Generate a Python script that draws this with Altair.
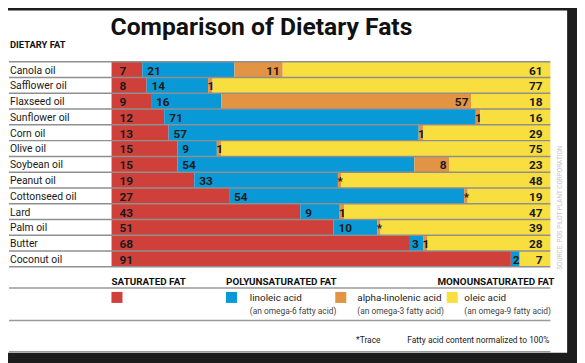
import altair as alt
import pandas as pd

# ---------------- data ----------------
oils = ["Canola oil", "Safflower oil", "Flaxseed oil", "Sunflower oil", "Corn oil",
        "Olive oil", "Soybean oil", "Peanut oil", "Cottonseed oil", "Lard",
        "Palm oil", "Butter", "Coconut oil"]
saturated = [7, 8, 9, 12, 13, 15, 15, 19, 27, 43, 51, 68, 91]
linoleic = [21, 14, 16, 71, 57, 9, 54, 33, 54, 9, 10, 3, 2]
alpha_linolenic = [11, 1, 57, 1, 1, 1, 8, 0.8, 0.8, 1, 0.8, 1, 0]
alpha_labels = ["11", "1", "57", "1", "1", "1", "8", "*", "*", "1", "*", "1", ""]
oleic = [61, 77, 18, 16, 29, 75, 23, 48, 19, 47, 39, 28, 7]

fat_types = ["saturated", "linoleic", "alpha", "oleic"]
fat_colors = ["#d0403a", "#0a99d7", "#e29343", "#f8df3f"]

title_text = "Comparison of Dietary Fats"
column_title = "DIETARY FAT"
group_headings = ["SATURATED FAT", "POLYUNSATURATED FAT"]
group_heading_pos = [0, 26.1]
mono_heading = "MONOUNSATURATED FAT"
legend_square_pos = [0, 26.1, 51.0, 76.4]
legend_text_pos = [31.5, 56.0, 80.4]
legend_names = ["linoleic acid", "alpha-linolenic acid", "oleic acid"]
legend_notes = ["(an omega-6 fatty acid)", "(an omega-3 fatty acid)", "(an omega-9 fatty acid)"]
trace_note = "*Trace"
norm_note = "Fatty acid content normalized to 100%"
source_note = "SOURCE: POS PILOT PLANT CORPORATION"

FONT = "Roboto"

# ---------------- build tables ----------------
rows = []
for i, oil in enumerate(oils):
    vals = [saturated[i], linoleic[i], alpha_linolenic[i], oleic[i]]
    labs = [str(saturated[i]), str(linoleic[i]), alpha_labels[i], str(oleic[i])]
    total = sum(vals)
    cum = 0.0
    for t, v, lab in zip(fat_types, vals, labs):
        if v > 0:
            start = cum / total * 100
            end = (cum + v) / total * 100
            rows.append({"oil": oil, "type": t, "value": v, "label": lab,
                         "start": start, "end": end, "mid": (start + end) / 2,
                         "small": v <= 1, "narrow": v <= 3})
        cum += v
df = pd.DataFrame(rows)

color_scale = alt.Scale(domain=fat_types, range=fat_colors)
x_scale = alt.Scale(domain=[0, 100], nice=False, zero=True)
y_scale = alt.Scale(domain=oils, paddingInner=0, paddingOuter=0)

panel = alt.Chart(pd.DataFrame({"a": [0]})).mark_rect(color="white").encode(
    x=alt.value(-105), x2=alt.value(462), y=alt.value(-52), y2=alt.value(295))

bars = alt.Chart(df).mark_bar(strokeWidth=0).encode(
    x=alt.X("start:Q", scale=x_scale, axis=None),
    x2="end:Q",
    y=alt.Y("oil:N", scale=y_scale, sort=oils, axis=None),
    color=alt.Color("type:N", scale=color_scale, legend=None),
)

sep_df = pd.DataFrame({"oil": oils})
row_labels = alt.Chart(sep_df).mark_text(font=FONT, fontSize=10.5, align="left",
                                         baseline="middle", dy=1, color="#1a1a1a").encode(
    y=alt.Y("oil:N", scale=y_scale, axis=None), x=alt.value(-103), text="oil:N")
seps = alt.Chart(sep_df).mark_rule(color="#8f8f8f", strokeWidth=1.5).encode(
    y=alt.Y("oil:N", scale=y_scale, bandPosition=0, axis=None),
    x=alt.value(-104), x2=alt.value(445))
sep_last = alt.Chart(sep_df.tail(1)).mark_rule(color="#8f8f8f", strokeWidth=1.5).encode(
    y=alt.Y("oil:N", scale=y_scale, bandPosition=1, axis=None),
    x=alt.value(-104), x2=alt.value(445))

num_style = dict(font=FONT, fontSize=12, fontWeight="bold", color="#1a1a1a", baseline="middle", dy=1)

def lbl(data, field, align, dx):
    return alt.Chart(data).mark_text(align=align, dx=dx, **num_style).encode(
        x=alt.X(f"{field}:Q", scale=x_scale, axis=None),
        y=alt.Y("oil:N", scale=y_scale, axis=None),
        text="label:N")

t_sat = lbl(df[df.type == "saturated"], "start", "left", 8)
t_lin = lbl(df[(df.type == "linoleic") & (~df.narrow)], "start", "left", 5)
t_lin_n = lbl(df[(df.type == "linoleic") & (df.narrow)], "start", "left", 2)
t_ala_big = lbl(df[(df.type == "alpha") & (~df.small)], "end", "right", -3)
t_ala_small = lbl(df[(df.type == "alpha") & (df.small)], "mid", "center", 0.5)
t_ole = lbl(df[df.type == "oleic"], "end", "right", -8)

# ---------------- titles & notes ----------------
def txt(text, x, y, **kw):
    return alt.Chart(pd.DataFrame({"t": [text]})).mark_text(**kw).encode(
        text="t:N", x=alt.value(x), y=alt.value(y))

title = txt(title_text, -1, -27, font=FONT, fontSize=25, fontWeight="bold",
            align="left", baseline="alphabetic", color="#111")
coltitle = txt(column_title, -103, -14, font=FONT, fontSize=9.5, fontWeight="bold",
               align="left", baseline="alphabetic", color="#111")
trace = txt(trace_note, 248, 285, font=FONT, fontSize=8.5, align="left",
            baseline="alphabetic", color="#222")
norm = txt(norm_note, 444, 285, font=FONT, fontSize=8.5, align="right",
           baseline="alphabetic", color="#222")
source = txt(source_note, 455, 148, font=FONT, fontSize=6.5, align="center",
             baseline="middle", angle=270, color="#c4c4c4")
mono = txt(mono_heading, 449, 226, font=FONT, fontSize=10, fontWeight="bold",
           align="right", baseline="alphabetic", color="#111")

# ---------------- legend ----------------
head_df = pd.DataFrame({"t": group_headings, "pos": group_heading_pos})
heads = alt.Chart(head_df).mark_text(font=FONT, fontSize=10, fontWeight="bold", align="left",
                                     baseline="alphabetic", color="#111").encode(
    x=alt.X("pos:Q", scale=x_scale, axis=None), y=alt.value(226), text="t:N")

sq_df = pd.DataFrame({"pos": legend_square_pos, "type": fat_types})
squares = alt.Chart(sq_df).mark_square(size=125, opacity=1, xOffset=5.5).encode(
    x=alt.X("pos:Q", scale=x_scale, axis=None), y=alt.value(239),
    color=alt.Color("type:N", scale=color_scale, legend=None))

name_df = pd.DataFrame({"t": legend_names, "n": legend_notes, "pos": legend_text_pos})
names = alt.Chart(name_df).mark_text(font=FONT, fontSize=10, align="left",
                                     baseline="alphabetic", color="#222").encode(
    x=alt.X("pos:Q", scale=x_scale, axis=None), y=alt.value(243), text="t:N")
notes = alt.Chart(name_df).mark_text(font=FONT, fontSize=8.5, align="left",
                                     baseline="alphabetic", color="#444").encode(
    x=alt.X("pos:Q", scale=x_scale, axis=None), y=alt.value(256), text="n:N")

def hline(y, color="#9a9a9a", w=1.5):
    return alt.Chart(pd.DataFrame({"a": [0]})).mark_rule(color=color, strokeWidth=w).encode(
        x=alt.value(-104), x2=alt.value(445), y=alt.value(y))

lines = hline(229.5) + hline(262.5) + hline(294)

chart = alt.layer(
    panel, bars, seps, sep_last, row_labels, t_sat, t_lin, t_lin_n, t_ala_big, t_ala_small, t_ole,
    title, coltitle, heads, mono, squares, names, notes, lines, trace, norm, source
).properties(
    width=445, height=208,
    padding={"left": 105, "top": 52, "right": 27, "bottom": 95},
    autosize=alt.AutoSizeParams(type="none"),
    background="#1c1c1c",
).configure_view(stroke=None)

chart.save("out.html", embed_options={"renderer": "svg", "actions": False})
